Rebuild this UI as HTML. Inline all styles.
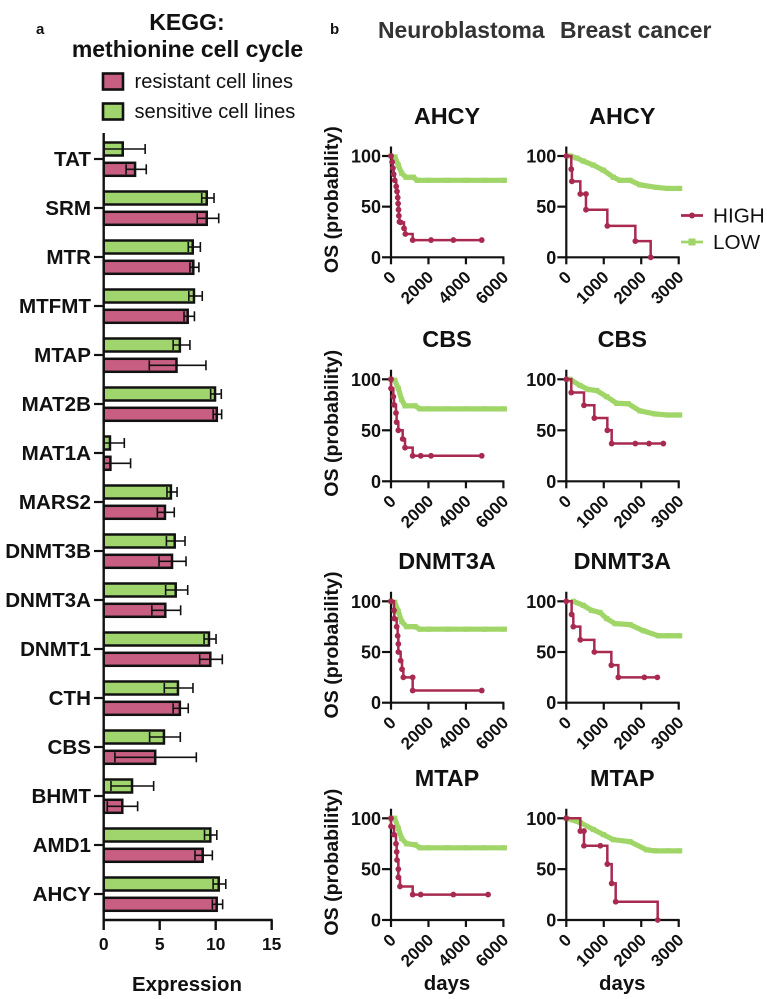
<!DOCTYPE html>
<html>
<head>
<meta charset="utf-8">
<title>KEGG methionine cell cycle expression and survival</title>
<style>
html,body{margin:0;padding:0;background:#fff;}
body{width:767px;height:999px;overflow:hidden;}
svg{display:block;font-family:"Liberation Sans",sans-serif;filter:blur(0.35px);}
text{fill:#111;}
.b{font-weight:bold;}
</style>
</head>
<body>
<svg id="figure" xmlns="http://www.w3.org/2000/svg" width="767" height="999" viewBox="0 0 767 999">
  <rect x="0" y="0" width="767" height="999" fill="#fff"/>
  <text class="b" x="36" y="34" font-size="15">a</text>
  <text class="b" x="330" y="34" font-size="15">b</text>
  <text class="b" x="187" y="30" font-size="23" text-anchor="middle">KEGG:</text>
  <text class="b" x="187.5" y="57" font-size="23" text-anchor="middle">methionine cell cycle</text>
  <rect x="103" y="73.5" width="20" height="16" fill="#c85f82" stroke="#111" stroke-width="2.6"/>
  <text x="134.5" y="88" font-size="20.1" fill="#222">resistant cell lines</text>
  <rect x="103" y="103.5" width="20" height="16" fill="#a0d46c" stroke="#111" stroke-width="2.6"/>
  <text x="134.5" y="118" font-size="20.1" fill="#222">sensitive cell lines</text>
  <text x="378" y="38" font-size="22.9" font-weight="bold" style="fill:#333">Neuroblastoma</text>
  <text x="560" y="38" font-size="22.9" font-weight="bold" style="fill:#333">Breast cancer</text>
  <text class="b" x="187" y="991" font-size="20.4" text-anchor="middle">Expression</text>
  <g>
    <line x1="681" x2="703" y1="215.5" y2="215.5" stroke="#a82a50" stroke-width="2.8"/>
    <circle cx="692" cy="215.5" r="3" fill="#a82a50"/>
    <text x="713" y="222.5" font-size="20.7" fill="#222">HIGH</text>
    <line x1="681" x2="703" y1="242" y2="242" stroke="#a0d568" stroke-width="2.8"/>
    <rect x="688.5" y="238.5" width="7" height="7" fill="#a0d568"/>
    <text x="713" y="249" font-size="20.7" fill="#222">LOW</text>
  </g>
  <g id="bars"></g>
  <g id="km"></g>
</svg>
<script>
// Bar chart data
const genes = ["TAT","SRM","MTR","MTFMT","MTAP","MAT2B","MAT1A","MARS2","DNMT3B","DNMT3A","DNMT1","CTH","CBS","BHMT","AMD1","AHCY"];
const sensitiveMean = [1.7,9.2,7.95,8.06,6.8,9.94,0.56,6.0,6.34,6.43,9.4,6.63,5.38,2.53,9.52,10.27];
const sensitiveLow  = [0,8.75,7.55,7.6,6.2,9.55,0,5.65,5.6,5.53,8.96,5.41,4.1,0.65,9.0,9.77];
const sensitiveHigh = [3.7,9.85,8.63,8.8,7.7,10.5,1.84,6.55,7.26,7.5,10.03,7.97,6.84,4.46,10.1,10.9];
const resistantMean = [2.8,9.2,8.0,7.5,6.5,10.1,0.6,5.47,6.1,5.5,9.52,6.8,4.6,1.66,8.84,10.09];
const resistantLow  = [2.0,8.35,7.7,7.17,4.07,9.77,0,4.79,4.94,4.3,8.57,6.2,1.0,0.32,8.15,9.7];
const resistantHigh = [3.8,10.27,8.5,8.1,9.13,10.53,2.4,6.3,7.35,6.87,10.59,7.55,8.27,3.03,9.7,10.62];
const expressionTicks = [0,5,10,15];

// Survival data: days and OS (%)
const nbAhcyHighDays = [0,60,100,140,200,280,320,360,380,400,420,450,516,694,766,1157,2136,3329,4843];
const nbAhcyHighOs   = [100,94,88,82,76,70,65,59,53,47,41,35,34.5,28.6,23,17,17,17,17];
const nbAhcyLowDays  = [0,213,390,570,800,1190,1400,2000,3000,4000,5000,6050];
const nbAhcyLowOs    = [100,99,91,83,79,79,76,76,76,76,76,76];
const brAhcyHighDays = [0,133,150,374,525,525,1095,1843,2252];
const brAhcyHighOs   = [100,87,75,62.5,62.5,47,31,16,0];
const brAhcyLowDays  = [98,280,454,721,988,1255,1433,1700,1967,2412,2700,3025];
const brAhcyLowOs    = [100,98,95,91,86,79,76,76,71.5,69,68,68];

const nbCbsHighDays = [0,0,125,160,267,300,390,623,748,1157,1585,2136,4843];
const nbCbsHighOs   = [100,91,83,75,67,58,50,41.5,33,25,25,25,25];
const nbCbsLowDays  = [0,200,390,570,748,1282,1550,2000,3000,4000,5000,6050];
const nbCbsLowOs    = [100,99,91,80,74,74,71,71,71,71,71,71];
const brCbsHighDays = [0,133,472,748,1095,1211,1843,2208,2590];
const brCbsHighOs   = [100,87,74.5,62,50,37,37,37,37];
const brCbsLowDays  = [98,365,587,810,1077,1344,1656,1967,2367,2700,3025];
const brCbsLowOs    = [100,94,90,89,83,76.5,76,69,66,65,65];

const nbDnmtHighDays = [0,160,178,303,356,392,392,516,588,659,1157,1157,4843];
const nbDnmtHighOs   = [100,91,83,75,66,58,50,41.5,33,25,25,12,12];
const nbDnmtLowDays  = [0,200,390,570,836,1282,1550,2000,3000,4000,5000,6050];
const nbDnmtLowOs    = [100,99,90,80,75,75,72.5,72.5,72.5,72.5,72.5,72.5];
const brDnmtHighDays = [0,142,187,374,748,1202,1389,2083,2430];
const brDnmtHighOs   = [100,87,75,62,50,37,25,25,25];
const brDnmtLowDays  = [187,454,676,899,1077,1300,1700,2056,2456,2700,3025];
const brDnmtLowOs    = [100,96,91,89,83,78,77,71,66,66,66];

const nbMtapHighDays = [0,0,160,267,303,320,392,392,480,1157,1585,3329,5181];
const nbMtapHighOs   = [100,92,84,75,67,59,50,42,33,25,25,25,25];
const nbMtapLowDays  = [0,200,390,570,836,1282,1550,2000,3000,4000,5000,6050];
const nbMtapLowOs    = [100,100,90,80,75,74,71,71,71,71,71,71];
const brMtapHighDays = [0,374,472,472,908,1095,1211,1318,2439];
const brMtapHighOs   = [100,87.5,87.5,73,73,55,36,18,0];
const brMtapLowDays  = [0,365,721,988,1255,1700,2145,2367,2700,3025];
const brMtapLowOs    = [100,96,89,84,79,77,69,68,68,68];

const osTicks = [0,50,100];
const nbDayTicks = [0,2000,4000,6000];
const brDayTicks = [0,1000,2000,3000];
const rowTitles = ["AHCY","CBS","DNMT3A","MTAP"];

// Layout
const NS = "http://www.w3.org/2000/svg";
const INK = "#111", RED = "#a82a50", GREEN = "#a0d568";
function mk(parent, tag, attrs, text) {
  const e = document.createElementNS(NS, tag);
  for (const k in attrs) e.setAttribute(k, attrs[k]);
  if (text !== undefined) e.textContent = text;
  parent.appendChild(e);
  return e;
}

// ---- Bar chart ----
const barsG = document.getElementById("bars");
const bx = v => 103.7 + v * 11.2;
const rowY = i => 159 + i * 49;

function drawBar(parent, i, mean, lo, hi, dy, fill, name) {
  const y = rowY(i) + dy;
  const g = mk(parent, "g", {});
  
  
  mk(g, "rect", {x:bx(0), y:y-6.5, width:bx(mean)-bx(0), height:13, fill:fill, stroke:INK, "stroke-width":2.5});
  mk(g, "line", {x1:bx(lo), x2:bx(hi), y1:y, y2:y, stroke:INK, "stroke-width":1.6});
  if (lo > 0) mk(g, "line", {x1:bx(lo), x2:bx(lo), y1:y-5, y2:y+5, stroke:INK, "stroke-width":1.6});
  mk(g, "line", {x1:bx(hi), x2:bx(hi), y1:y-5, y2:y+5, stroke:INK, "stroke-width":1.6});
}

genes.forEach((gene, i) => {
  drawBar(barsG, i, sensitiveMean[i], sensitiveLow[i], sensitiveHigh[i], -10, "#a0d46c", "bar-sensitive-" + gene.toLowerCase());
  drawBar(barsG, i, resistantMean[i], resistantLow[i], resistantHigh[i], 10.3, "#c85f82", "bar-resistant-" + gene.toLowerCase());
  const t = mk(barsG, "line", {x1:94, x2:103.7, y1:rowY(i), y2:rowY(i), stroke:INK, "stroke-width":2.2});
  
  
  const l = mk(barsG, "text", {x:91, y:rowY(i)+7, "font-size":20.6, "font-weight":"bold", "text-anchor":"end"}, gene);
  
  
});
const barYAxis = mk(barsG, "line", {x1:bx(0), x2:bx(0), y1:133, y2:921, stroke:INK, "stroke-width":2.4});


const barXAxis = mk(barsG, "line", {x1:bx(0)-1, x2:bx(15)+1, y1:920, y2:920, stroke:INK, "stroke-width":2.4});


expressionTicks.forEach(v => {
  const t = mk(barsG, "line", {x1:bx(v), x2:bx(v), y1:920, y2:930, stroke:INK, "stroke-width":2.4});
  
  
  const l = mk(barsG, "text", {x:bx(v), y:950, "font-size":17.5, "font-weight":"bold", "text-anchor":"middle"}, String(v));
  
  
});

// ---- Survival panels ----
const kmG = document.getElementById("km");
const rowTop = [156, 379.3, 601.3, 818.3];
const rowBottom = [257.3, 481.3, 702.7, 920];
const colLeft = [391, 566.3];
const PANEL_W = 112.4;
const colMax = [6000, 3000];
const colTicks = [nbDayTicks, brDayTicks];
const titleY = [124, 347, 569, 786];
const panels = [
  [[nbAhcyHighDays,nbAhcyHighOs,nbAhcyLowDays,nbAhcyLowOs],[brAhcyHighDays,brAhcyHighOs,brAhcyLowDays,brAhcyLowOs]],
  [[nbCbsHighDays,nbCbsHighOs,nbCbsLowDays,nbCbsLowOs],[brCbsHighDays,brCbsHighOs,brCbsLowDays,brCbsLowOs]],
  [[nbDnmtHighDays,nbDnmtHighOs,nbDnmtLowDays,nbDnmtLowOs],[brDnmtHighDays,brDnmtHighOs,brDnmtLowDays,brDnmtLowOs]],
  [[nbMtapHighDays,nbMtapHighOs,nbMtapLowDays,nbMtapLowOs],[brMtapHighDays,brMtapHighOs,brMtapLowDays,brMtapLowOs]]
];

function drawPanel(r, c) {
  const g = mk(kmG, "g", {});
  
  
  const sx = d => colLeft[c] + d / colMax[c] * PANEL_W;
  const sy = s => rowBottom[r] - s / 100 * (rowBottom[r] - rowTop[r]);
  const [hd, hs, ld, ls] = panels[r][c];

  const title = mk(g, "text", {x:colLeft[c]+56, y:titleY[r], "font-size":23.4, "font-weight":"bold", "text-anchor":"middle"}, rowTitles[r]);
  
  

  if (c === 0) {
    const cy = (rowTop[r] + rowBottom[r]) / 2 - 7;
    const yt = mk(g, "text", {x:0, y:0, "font-size":19.6, "font-weight":"bold", "text-anchor":"middle", transform:"translate(338 " + cy + ") rotate(-90)"}, "OS (probability)");
    
    
  }
  if (r === 3) {
    const xt = mk(g, "text", {x:colLeft[c]+56, y:990, "font-size":20.4, "font-weight":"bold", "text-anchor":"middle"}, "days");
    
    
  }

  // Low curve
  const lowPts = ld.map((d, i) => sx(d) + "," + sy(ls[i])).join(" ");
  const lowLine = mk(g, "polyline", {points:lowPts, fill:"none", stroke:GREEN, "stroke-width":5.2});
  
  
  ld.forEach((d, i) => {
    const m = mk(g, "rect", {x:sx(d)-2.6, y:sy(ls[i])-2.6, width:5.2, height:5.2, fill:GREEN});
    
    
  });

  // Axes
  const ya = mk(g, "line", {x1:colLeft[c], x2:colLeft[c], y1:rowTop[r]-9.5, y2:rowBottom[r]+1, stroke:INK, "stroke-width":2.2});
  
  
  const xa = mk(g, "line", {x1:colLeft[c]-1, x2:colLeft[c]+PANEL_W+1, y1:rowBottom[r], y2:rowBottom[r], stroke:INK, "stroke-width":2.2});
  
  
  osTicks.forEach(v => {
    const t = mk(g, "line", {x1:colLeft[c]-9, x2:colLeft[c], y1:sy(v), y2:sy(v), stroke:INK, "stroke-width":2.2});
    
    
    const l = mk(g, "text", {x:colLeft[c]-10, y:sy(v)+6.5, "font-size":18, "font-weight":"bold", "text-anchor":"end"}, String(v));
    
    
  });
  colTicks[c].forEach(v => {
    const t = mk(g, "line", {x1:sx(v), x2:sx(v), y1:rowBottom[r], y2:rowBottom[r]+7, stroke:INK, "stroke-width":2.2});
    
    
    const l = mk(g, "text", {x:0, y:0, "font-size":17, "font-weight":"bold", "text-anchor":"end", transform:"translate(" + (sx(v)+6) + " " + (rowBottom[r]+21) + ") rotate(-45)"}, String(v));
    
    
  });

  // High curve (Kaplan-Meier steps)
  let dPath = "M" + sx(hd[0]) + " " + sy(hs[0]);
  for (let i = 1; i < hd.length; i++) {
    dPath += " H" + sx(hd[i]) + " V" + sy(hs[i]);
  }
  const highLine = mk(g, "path", {d:dPath, fill:"none", stroke:RED, "stroke-width":2.5});
  
  
  hd.forEach((d, i) => {
    const m = mk(g, "circle", {cx:sx(d), cy:sy(hs[i]), r:2.9, fill:RED});
    
    
  });
}
rowTitles.forEach((_, r) => { colLeft.forEach((_, c) => drawPanel(r, c)); });
</script>
</body>
</html>
